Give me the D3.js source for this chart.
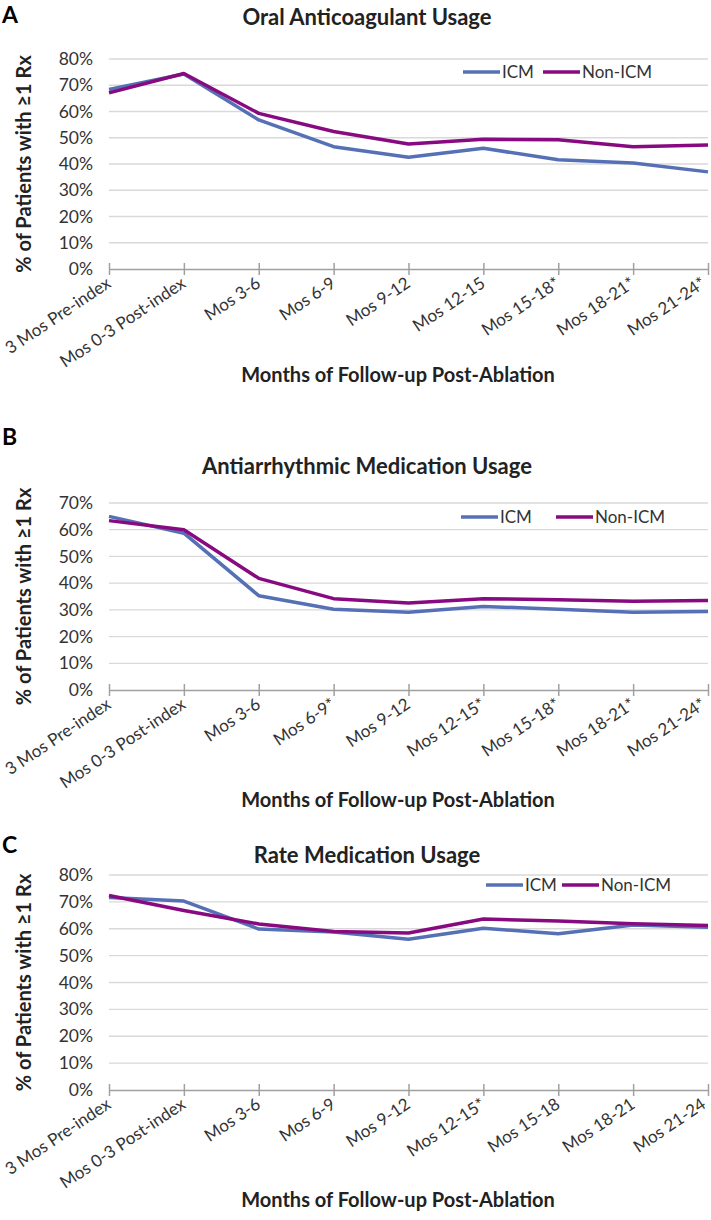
<!DOCTYPE html>
<html>
<head>
<meta charset="utf-8">
<script src="https://cdn.jsdelivr.net/npm/d3@7"></script>
<style>
  html, body { margin: 0; padding: 0; background: #fff; }
  svg { display: block; }
  text { font-family: Lato, "Open Sans", sans-serif; fill: #222; }
</style>
</head>
<body>
<svg id="chart" width="711" height="1220"></svg>
<script>
// ---------- DATA ----------
const seriesNames = ["ICM", "Non-ICM"];
const categoriesA = ["3 Mos Pre-index", "Mos 0-3 Post-index", "Mos 3-6", "Mos 6-9", "Mos 9-12", "Mos 12-15", "Mos 15-18*", "Mos 18-21*", "Mos 21-24*"];
const categoriesB = ["3 Mos Pre-index", "Mos 0-3 Post-index", "Mos 3-6", "Mos 6-9*", "Mos 9-12", "Mos 12-15*", "Mos 15-18*", "Mos 18-21*", "Mos 21-24*"];
const categoriesC = ["3 Mos Pre-index", "Mos 0-3 Post-index", "Mos 3-6", "Mos 6-9", "Mos 9-12", "Mos 12-15*", "Mos 15-18", "Mos 18-21", "Mos 21-24"];

const icmA    = [68.4, 74.3, 56.8, 46.6, 42.6, 46.0, 41.6, 40.4, 37.0];
const nonIcmA = [67.1, 74.5, 59.3, 52.4, 47.6, 49.4, 49.2, 46.6, 47.2];

const icmB    = [65.0, 58.7, 35.3, 30.2, 29.1, 31.3, 30.2, 29.1, 29.4];
const nonIcmB = [63.4, 60.0, 41.8, 34.2, 32.6, 34.2, 33.8, 33.2, 33.5];

const icmC    = [71.6, 70.3, 59.9, 58.8, 56.1, 60.2, 58.1, 61.4, 60.6];
const nonIcmC = [72.4, 66.8, 61.8, 59.0, 58.4, 63.6, 62.9, 61.9, 61.2];

const titles = ["Oral Anticoagulant Usage", "Antiarrhythmic Medication Usage", "Rate Medication Usage"];
const panelLetters = ["A", "B", "C"];
const yTicksA = [0, 10, 20, 30, 40, 50, 60, 70, 80];
const yTicksB = [0, 10, 20, 30, 40, 50, 60, 70];
const yTicksC = [0, 10, 20, 30, 40, 50, 60, 70, 80];
const yAxisTitle = "% of Patients with \u22651 Rx";
const xAxisTitle = "Months of Follow-up Post-Ablation";

// ---------- STYLE / LAYOUT ----------
const colors = { "ICM": "#5670b6", "Non-ICM": "#880a80" };
const svg = d3.select("#chart");
const left = 109, right = 708;

const panels = [
  { letter: panelLetters[0], title: titles[0], cats: categoriesA, icm: icmA, non: nonIcmA, yTicks: yTicksA,
    top: 59, bottom: 269, titleY: 17, letterY: 15, legendY: 72, legendX: 463, legendGap: 80, xTitleY: 375 },
  { letter: panelLetters[1], title: titles[1], cats: categoriesB, icm: icmB, non: nonIcmB, yTicks: yTicksB,
    top: 503, bottom: 690, titleY: 466, letterY: 437, legendY: 517, legendX: 461, legendGap: 95, xTitleY: 800 },
  { letter: panelLetters[2], title: titles[2], cats: categoriesC, icm: icmC, non: nonIcmC, yTicks: yTicksC,
    top: 875, bottom: 1090, titleY: 855, letterY: 845, legendY: 885, legendX: 486, legendGap: 76, xTitleY: 1200 }
];

panels.forEach(p => {
  const g = svg.append("g");
  const x = d3.scalePoint().domain(p.cats).range([left, right]);
  const yMax = d3.max(p.yTicks);
  const y = d3.scaleLinear().domain([0, yMax]).range([p.bottom, p.top]);

  // panel letter
  g.append("text").attr("x", 2).attr("y", p.letterY).attr("dy", "0.35em")
    .style("font-size", "23px").style("font-weight", "bold").style("fill", "#000").text(p.letter);
  // title
  g.append("text").attr("x", 367).attr("y", p.titleY).attr("dy", "0.35em")
    .attr("text-anchor", "middle").style("font-size", "22px").style("font-weight", "bold").text(p.title);

  // gridlines
  g.append("g").selectAll("line").data(p.yTicks.filter(t => t > 0)).join("line")
    .attr("x1", left).attr("x2", right)
    .attr("y1", d => y(d)).attr("y2", d => y(d))
    .attr("stroke", "#d9d9d9").attr("stroke-width", 1.3);

  // y axis labels
  const yAxis = d3.axisLeft(y).tickValues(p.yTicks).tickFormat(d => d + "%").tickSize(0).tickPadding(0);
  const ya = g.append("g").attr("transform", `translate(${left - 16},0)`).call(yAxis);
  ya.select(".domain").remove();
  ya.selectAll("text").style("font-size", "17.5px").style("fill", "#333").style("font-family", "Lato, 'Open Sans', sans-serif");

  // x axis
  const xAxis = d3.axisBottom(x).tickSize(6).tickSizeOuter(0).tickFormat("");
  const xa = g.append("g").attr("transform", `translate(0,${p.bottom})`).call(xAxis);
  xa.select(".domain").attr("stroke", "#a0a0a0").attr("stroke-width", 1.5);
  xa.selectAll(".tick line").attr("stroke", "#a0a0a0").attr("stroke-width", 1.5).attr("y1", -6).attr("y2", 6);

  // rotated x labels
  g.append("g").selectAll("text").data(p.cats).join("text")
    .attr("transform", d => `translate(${Math.min(x(d) + 3, 707)},${p.bottom + 17}) rotate(-34)`)
    .attr("text-anchor", "end")
    .style("font-size", "17px").style("fill", "#333")
    .text(d => d);

  // x axis title
  g.append("text").attr("x", 398).attr("y", p.xTitleY).attr("dy", "0.35em")
    .attr("text-anchor", "middle").style("font-size", "20px").style("font-weight", "bold").text(xAxisTitle);

  // y axis title
  g.append("text").attr("transform", `translate(24,${(p.top + p.bottom) / 2}) rotate(-90)`)
    .attr("dy", "0.35em").attr("text-anchor", "middle")
    .style("font-size", "20px").style("font-weight", "bold").text(yAxisTitle);

  // lines
  const line = d3.line().x((d, i) => x(p.cats[i])).y(d => y(d));
  [["ICM", p.icm], ["Non-ICM", p.non]].forEach(([name, vals]) => {
    g.append("path").datum(vals).attr("d", line)
      .attr("fill", "none").attr("stroke", colors[name]).attr("stroke-width", 3.5)
      .attr("stroke-linejoin", "round");
  });

  // legend
  const lg = g.append("g").attr("transform", `translate(${p.legendX},${p.legendY})`);
  const items = [{ name: seriesNames[0], dx: 0 }, { name: seriesNames[1], dx: p.legendGap }];
  items.forEach(it => {
    lg.append("line").attr("x1", it.dx).attr("x2", it.dx + 37).attr("y1", 0).attr("y2", 0)
      .attr("stroke", colors[it.name]).attr("stroke-width", 3.5);
    lg.append("text").attr("x", it.dx + 39).attr("y", 0).attr("dy", "0.35em")
      .style("font-size", "17px").style("fill", "#333").text(it.name);
  });
});
</script>
</body>
</html>
